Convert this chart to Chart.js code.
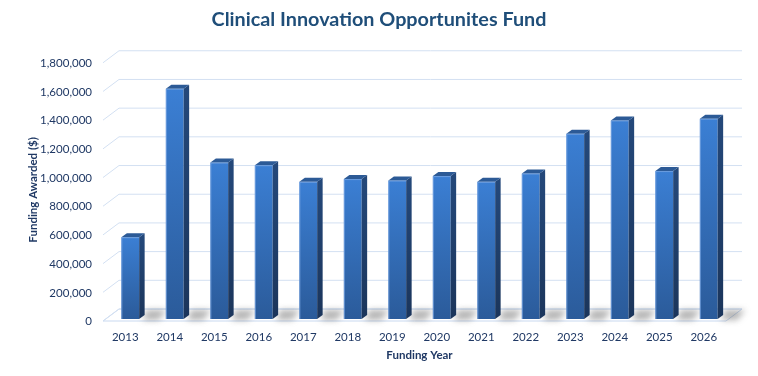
<!DOCTYPE html>
<html>
<head>
<meta charset="utf-8">
<title>Clinical Innovation Opportunites Fund</title>
<script src="https://cdn.jsdelivr.net/npm/chart.js@4.4.0/dist/chart.umd.min.js"></script>
<style>
    html, body { margin: 0; padding: 0; background: #fff; }
    #wrap { width: 758px; height: 376px; }
</style>
</head>
<body>
<div id="wrap"><canvas id="fundChart" width="758" height="376"></canvas></div>
<script>
// values
const years = ['2013', '2014', '2015', '2016', '2017', '2018', '2019',
               '2020', '2021', '2022', '2023', '2024', '2025', '2026'];
const funding = [570000, 1605000, 1090000, 1072000, 956000, 975000, 965000,
                 996000, 956000, 1014000, 1291000, 1384000, 1031000, 1396000];
const yTicks = [0, 200000, 400000, 600000, 800000, 1000000, 1200000, 1400000, 1600000, 1800000];

const chartTitle = 'Clinical Innovation Opportunites Fund';
const yTitle = 'Funding Awarded ($)';
const xTitle = 'Funding Year';

const textColor = '#1F3864';
const titleColor = '#1F4E79';
const fontFamily = 'Lato, "Open Sans", sans-serif';

// 3D look: wall depth and bar depth
const WALL_DX = 16, WALL_DY = -12, BAR_SHIFT = 5;
const BAR_DX = 5.5, BAR_DY = -4;

const threeD = {
    id: 'threeD',
    beforeDatasetsDraw(chart) {
        const { ctx, chartArea: area, scales: { y } } = chart;
        const leftF = area.left - BAR_SHIFT;
        const rightF = area.right - BAR_SHIFT;
        ctx.save();

        // floor
        const y0 = y.getPixelForValue(0) + 2;
        ctx.beginPath();
        ctx.moveTo(leftF, y0);
        ctx.lineTo(rightF, y0);
        ctx.lineTo(rightF + WALL_DX, y0 + WALL_DY);
        ctx.lineTo(leftF + WALL_DX, y0 + WALL_DY);
        ctx.closePath();
        ctx.fillStyle = '#ffffff';
        ctx.fill();
        ctx.strokeStyle = '#C9D9F0';
        ctx.lineWidth = 1;
        ctx.stroke();

        // back-wall gridlines with side-wall diagonals
        y.ticks.forEach(t => {
            const yf = y.getPixelForValue(t.value) + 2;
            const yb = yf + WALL_DY;
            ctx.beginPath();
            ctx.moveTo(leftF, yf);
            ctx.lineTo(leftF + WALL_DX, yb);
            ctx.lineTo(rightF + WALL_DX, yb);
            ctx.strokeStyle = '#D3E0F2';
            ctx.stroke();
        });

        // bar shadows on the floor
        const meta = chart.getDatasetMeta(0);
        ctx.filter = 'blur(3px)';
        meta.data.forEach(bar => {
            const xr = bar.x + bar.width / 2 + BAR_DX - 2;
            const b = bar.base;
            ctx.beginPath();
            ctx.moveTo(xr, b + 1);
            ctx.lineTo(xr + 16, b + 1);
            ctx.lineTo(xr + 24, b - 9);
            ctx.lineTo(xr + 4, b - 9);
            ctx.closePath();
            ctx.fillStyle = 'rgba(90,90,90,0.45)';
            ctx.fill();
        });
        ctx.filter = 'none';
        ctx.restore();
    },
    afterDatasetsDraw(chart) {
        const { ctx } = chart;
        const meta = chart.getDatasetMeta(0);
        ctx.save();
        meta.data.forEach(bar => {
            const l = bar.x - bar.width / 2;
            const r = bar.x + bar.width / 2;
            const top = bar.y, base = bar.base;

            // side face
            const side = ctx.createLinearGradient(0, top, 0, base);
            side.addColorStop(0, '#24487A');
            side.addColorStop(1, '#1B355B');
            ctx.beginPath();
            ctx.moveTo(r, top);
            ctx.lineTo(r + BAR_DX, top + BAR_DY);
            ctx.lineTo(r + BAR_DX, base + BAR_DY);
            ctx.lineTo(r, base);
            ctx.closePath();
            ctx.fillStyle = side;
            ctx.fill();

            // top face
            ctx.beginPath();
            ctx.moveTo(l, top);
            ctx.lineTo(r, top);
            ctx.lineTo(r + BAR_DX, top + BAR_DY);
            ctx.lineTo(l + BAR_DX, top + BAR_DY);
            ctx.closePath();
            ctx.fillStyle = '#2C5A96';
            ctx.fill();

            // light edges
            ctx.strokeStyle = 'rgba(120,165,225,0.8)';
            ctx.lineWidth = 1;
            ctx.beginPath();
            ctx.moveTo(l + 0.5, base);
            ctx.lineTo(l + 0.5, top + 0.5);
            ctx.lineTo(r, top + 0.5);
            ctx.stroke();
        });
        ctx.restore();
    }
};

const fundCtx = document.getElementById('fundChart').getContext('2d');

new Chart(fundCtx, {
    type: 'bar',
    data: {
        labels: years,
        datasets: [{
            label: 'Funding Awarded',
            data: funding,
            backgroundColor: (c) => {
                const chart = c.chart;
                if (!chart.chartArea || c.dataIndex === undefined) return '#3470BD';
                const yTop = chart.scales.y.getPixelForValue(funding[c.dataIndex]);
                const g = chart.ctx.createLinearGradient(0, yTop, 0, chart.chartArea.bottom);
                g.addColorStop(0, '#3B7FD4');
                g.addColorStop(1, '#2B5B9A');
                return g;
            },
            borderWidth: 0,
            barPercentage: 0.4,
            categoryPercentage: 1.0
        }]
    },
    options: {
        responsive: false,
        animation: false,
        devicePixelRatio: 1,
        layout: {
            padding: { left: 0, right: 0, top: 0, bottom: 0 }
        },
        plugins: {
            legend: { display: false },
            tooltip: { enabled: false },
            title: {
                display: true,
                text: chartTitle,
                color: titleColor,
                font: { family: fontFamily, size: 19.8, weight: 'bold' },
                padding: { top: 8, bottom: 29 }
            }
        },
        scales: {
            x: {
                grid: { display: false, drawTicks: false },
                border: { display: false },
                ticks: {
                    color: textColor,
                    font: { family: fontFamily, size: 11.5 },
                    padding: 11,
                    labelOffset: -BAR_SHIFT,
                    maxRotation: 0
                },
                title: {
                    display: true,
                    text: xTitle,
                    color: textColor,
                    font: { family: fontFamily, size: 11.5, weight: 'bold' },
                    padding: { top: 0, bottom: 14 }
                },
                afterFit: (s) => { s.height = 57; }
            },
            y: {
                min: 0,
                max: 1800000,
                grid: { display: false, drawTicks: false },
                border: { display: false },
                afterBuildTicks: (s) => { s.ticks = yTicks.map(v => ({ value: v })); },
                ticks: {
                    color: textColor,
                    font: { family: fontFamily, size: 11.5 },
                    padding: 16,
                    labelOffset: 2.5,
                    callback: (v) => Number(v).toLocaleString('en-US')
                },
                title: {
                    display: true,
                    text: yTitle,
                    color: textColor,
                    font: { family: fontFamily, size: 11.5, weight: 'bold' },
                    padding: { top: 26, bottom: 0 }
                },
                afterFit: (s) => { s.width = 108; }
            },
            // empty strip on the right so the plot ends where the reference does
            yRight: {
                position: 'right',
                grid: { display: false, drawTicks: false },
                border: { display: false },
                ticks: { display: false },
                afterFit: (s) => { s.width = 27; }
            }
        }
    },
    plugins: [threeD]
});
</script>
</body>
</html>
